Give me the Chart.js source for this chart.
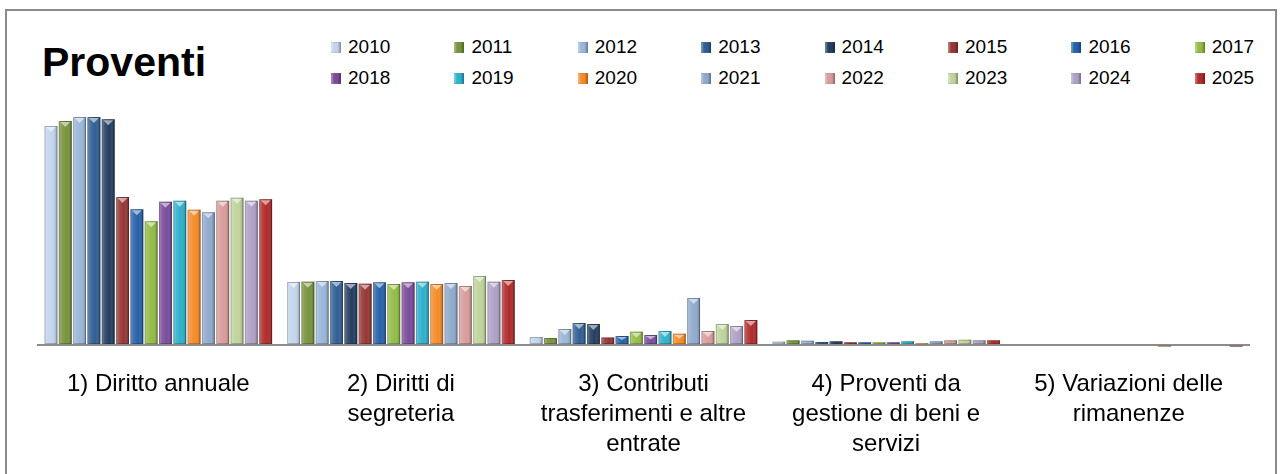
<!DOCTYPE html>
<html>
<head>
<meta charset="utf-8">
<script src="https://cdn.jsdelivr.net/npm/chart.js@4"></script>
<style>
  html, body { margin: 0; padding: 0; background: #ffffff; width: 1283px; height: 474px; overflow: hidden; }
  #frame { position: absolute; left: 5px; top: 9px; width: 1272px; height: 480px; border: 2px solid #8a8a8a; box-sizing: border-box; }
  #title { position: absolute; left: 42px; top: 42px; font: bold 41px/41px "Liberation Sans", Arial, sans-serif; color: #000; }
  .lg { position: absolute; font: 19px/19px "Liberation Sans", Arial, sans-serif; color: #000; white-space: nowrap; }
  .lg i { display: inline-block; width: 10px; height: 11px; margin-right: 7px; vertical-align: 0px; box-shadow: inset -2px 0 2px rgba(0,0,0,0.3), inset 2px 0 2px rgba(255,255,255,0.35); }
  canvas { position: absolute; left: 0; top: 0; }
</style>
</head>
<body>
<div id="frame"></div>
<div id="title">Proventi</div>
<div id="legend"></div>
<canvas id="c" width="1283" height="500"></canvas>
<script>
// ---- DATA ----
const categories = [
  "1) Diritto annuale",
  ["2) Diritti di", "segreteria"],
  ["3) Contributi", "trasferimenti e altre", "entrate"],
  ["4) Proventi da", "gestione di beni e", "servizi"],
  ["5) Variazioni delle", "rimanenze"]
];
const years = ["2010","2011","2012","2013","2014","2015","2016","2017",
               "2018","2019","2020","2021","2022","2023","2024","2025"];
const v2010 = [219.0, 63.0,  8.0, 3.4, 0];
const v2011 = [224.0, 63.3,  7.0, 4.7, 0];
const v2012 = [228.0, 64.0, 16.0, 4.3, 0];
const v2013 = [228.0, 64.0, 22.0, 3.0, 0];
const v2014 = [225.7, 62.0, 21.0, 3.7, 0];
const v2015 = [148.0, 61.3,  7.5, 2.7, 0];
const v2016 = [135.7, 62.7,  9.0, 2.7, 0];
const v2017 = [123.7, 61.0, 13.3, 2.7, 0];
const v2018 = [143.3, 62.7, 10.0, 2.7, 0];
const v2019 = [144.3, 63.3, 14.0, 3.7, 0];
const v2020 = [135.3, 61.0, 11.3, 1.7, -1.5];
const v2021 = [132.7, 62.0, 47.0, 3.7, 0];
const v2022 = [144.3, 59.0, 14.0, 4.7, 0];
const v2023 = [147.3, 69.0, 21.0, 5.3, 0];
const v2024 = [144.3, 63.3, 19.0, 4.7, 0];
const v2025 = [145.7, 65.0, 25.0, 4.7, -1.5];
const seriesValues = [v2010,v2011,v2012,v2013,v2014,v2015,v2016,v2017,
                      v2018,v2019,v2020,v2021,v2022,v2023,v2024,v2025];
const colors = ["#c3d5ec","#77933c","#9ab6d8","#2f5e94","#233d60","#963634","#2561a9","#92bc45",
                "#7a4b9c","#2fb0cb","#f68b26","#8fa9cd","#d89c9a","#bfd49b","#afa1c6","#b12a2a"];

// ---- HTML legend (built from arrays) ----
const legend = document.getElementById('legend');
years.forEach((y, i) => {
  const col = i % 8, row = Math.floor(i / 8);
  const d = document.createElement('div');
  d.className = 'lg';
  d.style.left = (331 + col * 123.4) + 'px';
  d.style.top = (37 + row * 31) + 'px';
  d.innerHTML = '<i style="background:' + colors[i] + '"></i>' + y;
  legend.appendChild(d);
});

// ---- bar bevel overlay ----
const bevel = {
  id: 'bevel',
  afterDatasetsDraw(chart) {
    const ctx = chart.ctx;
    ctx.save();
    chart.data.datasets.forEach((ds, i) => {
      const meta = chart.getDatasetMeta(i);
      meta.data.forEach(el => {
        const p = el.getProps(['x', 'y', 'base', 'width'], true);
        const l = p.x - p.width / 2, r = p.x + p.width / 2;
        const top = Math.min(p.y, p.base), h = Math.abs(p.base - p.y);
        if (h < 0.5) return;
        const g = ctx.createLinearGradient(l, 0, r, 0);
        g.addColorStop(0, 'rgba(255,255,255,0.38)');
        g.addColorStop(0.22, 'rgba(255,255,255,0.12)');
        g.addColorStop(0.6, 'rgba(255,255,255,0)');
        g.addColorStop(1, 'rgba(0,0,0,0.30)');
        ctx.fillStyle = g;
        ctx.fillRect(l, top, p.width, h);
        ctx.strokeStyle = 'rgba(0,0,0,0.22)';
        ctx.lineWidth = 1;
        ctx.strokeRect(l + 0.5, top + 0.5, p.width - 1, h - 1);
        if (h > 7 && p.y < p.base) {
          ctx.beginPath();
          ctx.moveTo(l + 1.5, top + 1);
          ctx.lineTo(r - 1.5, top + 1);
          ctx.lineTo(p.x, top + Math.min(6, h / 2));
          ctx.closePath();
          ctx.fillStyle = 'rgba(255,255,255,0.55)';
          ctx.fill();
        }
      });
    });
    ctx.restore();
  }
};

new Chart(document.getElementById('c'), {
  type: 'bar',
  data: {
    labels: categories,
    datasets: years.map((y, i) => ({
      label: y,
      data: seriesValues[i],
      backgroundColor: colors[i],
      borderWidth: 0,
      categoryPercentage: 0.944,
      barPercentage: 0.9
    }))
  },
  options: {
    responsive: false,
    animation: false,
    layout: { padding: { left: 37, right: 33, top: 97, bottom: 20 } },
    plugins: { legend: { display: false }, title: { display: false }, tooltip: { enabled: false } },
    scales: {
      x: {
        grid: { display: false, drawTicks: false },
        border: { display: false },
        ticks: {
          color: '#000',
          padding: 21,
          maxRotation: 0, minRotation: 0, autoSkip: false,
          font: { family: '"Liberation Sans", Arial, sans-serif', size: 24, lineHeight: 1.25 }
        }
      },
      y: {
        min: -3, max: 248,
        border: { display: false },
        ticks: { display: false },
        afterBuildTicks: (s) => { s.ticks = [{ value: 0 }]; },
        grid: { drawTicks: false, color: '#8c8c8c', lineWidth: 2 }
      }
    }
  },
  plugins: [bevel]
});
</script>
</body>
</html>
